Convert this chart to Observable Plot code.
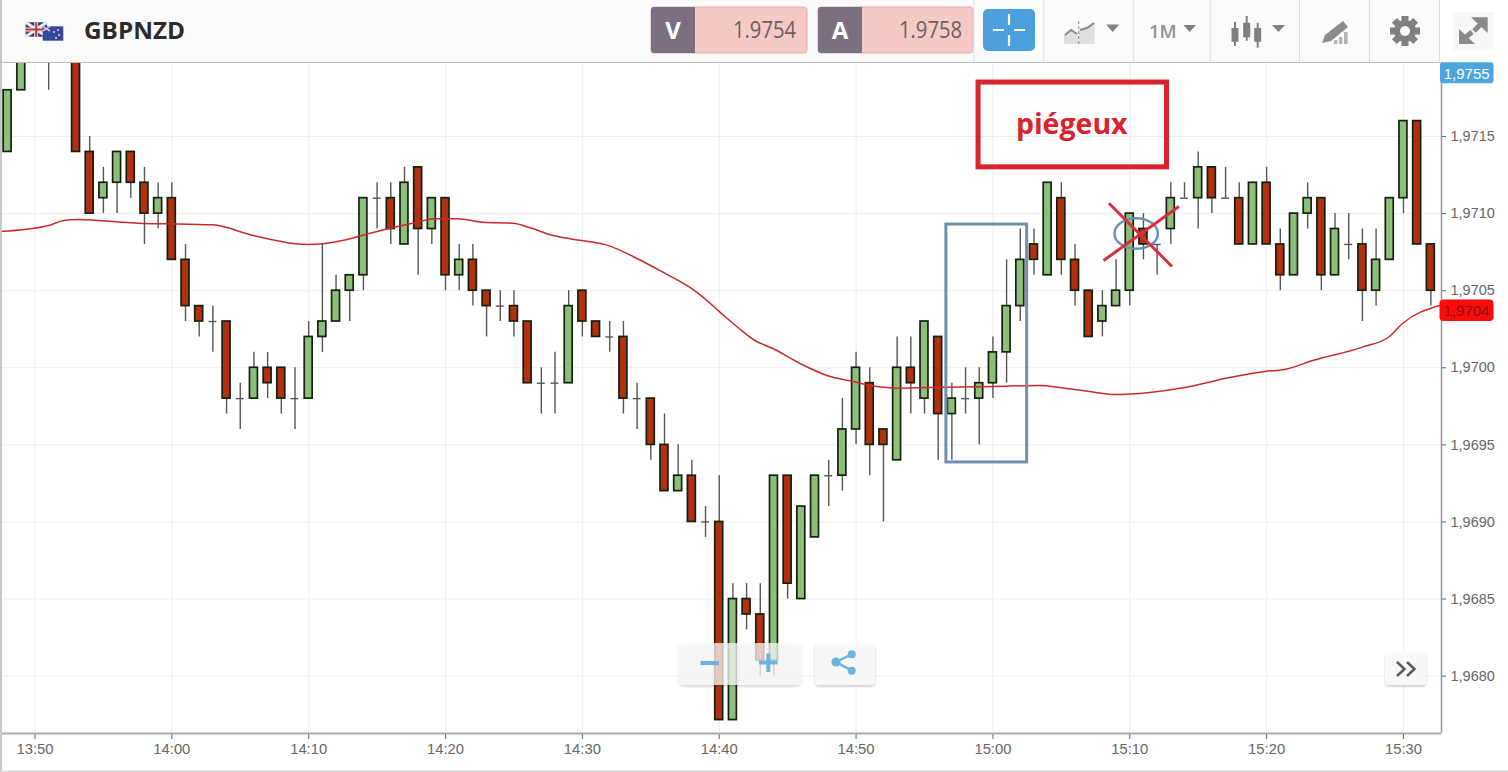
<!DOCTYPE html>
<html><head><meta charset="utf-8">
<script src="https://cdn.jsdelivr.net/npm/d3@7"></script>
<script src="https://cdn.jsdelivr.net/npm/@observablehq/plot@0.6"></script>
<style>
html,body{margin:0;padding:0;background:#fff;width:1508px;height:772px;overflow:hidden;font-family:"Open Sans",sans-serif}
#wrap{position:relative;width:1508px;height:772px}
#toolbar{display:block;position:absolute;left:0;top:0}
#chart{position:absolute;left:0;top:62px}
#chart svg{display:block;background:#fff}
#over{position:absolute;left:0;top:0;pointer-events:none}
</style></head><body>
<div id="wrap">
<div id="chart"></div>
<svg id="toolbar" width="1508" height="63" font-family="Open Sans">
  <rect width="1440" height="62" fill="#fbfbfb"/>
  <rect x="1440" width="68" height="62" fill="#fff"/>
  <rect y="62" width="1440" height="1" fill="#bdbdbd"/>
  <rect x="25.7" y="22.3" width="21" height="14.4" fill="#2a3a78"/>
  <path d="M25.7 22.3L46.7 36.7M46.7 22.3L25.7 36.7" stroke="#eee" stroke-width="3"/>
  <path d="M36.2 22.3V36.7M25.7 29.5H46.7" stroke="#eee" stroke-width="4"/>
  <path d="M36.2 22.3V36.7M25.7 29.5H46.7" stroke="#c8303c" stroke-width="2"/>
  <rect x="42.7" y="26.3" width="20.6" height="14.4" fill="#2f4c9c"/>
  <path d="M42.7 26.3L50 31M50 26.3L42.7 31" stroke="#e6c0c8" stroke-width="1.5"/>
  <path d="M53 31h2v2h-2zM57 29h2v2h-2zM58 34h2v2h-2zM55 37h2v2h-2z" fill="#e8a0a8"/>
  <text x="84" y="39" font-size="23" font-weight="700" fill="#2b2b2b" textLength="101" lengthAdjust="spacingAndGlyphs">GBPNZD</text>

  <rect x="651" y="7" width="156" height="46" rx="3" fill="#f5c9c6" stroke="#d8b0b0"/>
  <path d="M654 7h41v46h-41a3 3 0 0 1-3-3v-40a3 3 0 0 1 3-3z" fill="#7a7080"/>
  <text x="673" y="39" font-size="24" font-weight="700" fill="#fff" text-anchor="middle">V</text>
  <text x="733" y="38" font-size="23" fill="#6b6060" textLength="63" lengthAdjust="spacingAndGlyphs">1.9754</text>
  <rect x="818" y="7" width="155" height="46" rx="3" fill="#f5c9c6" stroke="#d8b0b0"/>
  <path d="M821 7h41v46h-41a3 3 0 0 1-3-3v-40a3 3 0 0 1 3-3z" fill="#7a7080"/>
  <text x="840" y="39" font-size="24" font-weight="700" fill="#fff" text-anchor="middle">A</text>
  <text x="899" y="38" font-size="23" fill="#6b6060" textLength="63" lengthAdjust="spacingAndGlyphs">1.9758</text>
  <rect x="983" y="9" width="52" height="42" rx="5" fill="#4a9fdc"/>
  <path d="M1009 14v11M1009 35v11M993 30h11M1014 30h11" stroke="#fff" stroke-width="2.2"/>

  <path d="M974 0V62M1043.7 0V62M1133.3 0V62M1210.3 0V62M1299.5 0V62M1369.5 0V62M1439.5 0V62" stroke="#dfdfdf"/>
  <path d="M1064 44V34L1071 29L1078 33V44zM1079 44V30L1087 28L1094.7 23V44z" fill="#e0e0e0"/>
  <path d="M1065 35L1071 30L1077 34M1080 30L1087 28L1094 23" stroke="#8c8c8c" stroke-width="2" fill="none"/>
  <path d="M1078.7 21V45" stroke="#999" stroke-width="1.2" stroke-dasharray="3 2"/>
  <path d="M1106 24.5h13.3l-6.6 7.5z" fill="#808080"/>
  <text x="1149" y="38.3" font-size="18" font-weight="600" fill="#929292" textLength="27.7" lengthAdjust="spacingAndGlyphs">1M</text>
  <path d="M1183.3 25h12.7l-6.3 7z" fill="#808080"/>
  <path d="M1235 21.7V46M1246.7 16V40.7M1257.7 22.7V47.7" stroke="#808080" stroke-width="2"/>
  <path d="M1231.5 28h7v13.7h-7zM1243.2 22.7h7v14.6h-7zM1254.2 28h7v13.7h-7z" fill="#808080"/>
  <path d="M1272 25h13l-6.5 7z" fill="#808080"/>
  <path d="M1322 43L1325 35L1343 21L1348 27L1331 41z" fill="#8c8c8c"/>
  <path d="M1334 44V40h3.4v4zM1339 44V37h3.4v7zM1344 44V32h3.6v12z" fill="#b5b5b5"/>
  <g transform="translate(1405 31)" fill="#808080">
    <circle r="11"/>
    <path d="M-3.5-15h7v30h-7zM-15-3.5h30v7h-30z"/>
    <path d="M-3.5-15h7v30h-7zM-15-3.5h30v7h-30z" transform="rotate(45)"/>
    <circle r="5" fill="#fbfbfb"/>
  </g>
  <rect x="1453" y="12" width="41" height="38" fill="#f7f7f7"/>
  <path d="M1487.7 17.3V33L1471 17.3zM1459 44V29L1475 44z" fill="#8a8a8a"/>
  <path d="M1481 24L1474 31M1465.5 37.5L1472 32" stroke="#8a8a8a" stroke-width="5"/>
</svg>
<svg id="over" width="1508" height="772" font-family="Open Sans">
  <defs><filter id="sh" x="-10%" y="-10%" width="120%" height="130%"><feDropShadow dx="0" dy="1.5" stdDeviation="1" flood-color="#000" flood-opacity="0.22"/></filter></defs>
  <rect x="0" y="0" width="2" height="772" fill="#c3c7ce"/>
  <rect x="0" y="770.5" width="1508" height="1.5" fill="#dcdcdc"/>
  <rect x="679" y="643" width="122" height="42" rx="4" fill="#fafafa" fill-opacity="0.74" filter="url(#sh)"/>
  <rect x="815" y="643" width="60" height="42" rx="4" fill="#fafafa" fill-opacity="0.9" filter="url(#sh)"/>
  <path d="M700.5 663H719" stroke="#6db3dd" stroke-width="4"/>
  <path d="M759 662.5H777.5M768.3 653.5V672" stroke="#6db3dd" stroke-width="4"/>
  <path d="M836 662L851.7 654.3M836 662L851.7 670.7" stroke="#6db3dd" stroke-width="2.5"/>
  <circle cx="836" cy="662" r="4.6" fill="#6db3dd"/><circle cx="851.7" cy="654.3" r="4" fill="#6db3dd"/><circle cx="851.7" cy="670.7" r="4" fill="#6db3dd"/>
  <rect x="1385" y="652.7" width="41" height="32.3" rx="3" fill="#fafafa" fill-opacity="0.92" filter="url(#sh)"/>
  <path d="M1397 662L1404.5 669L1397 676M1407 662L1414.5 669L1407 676" fill="none" stroke="#5c5c5c" stroke-width="2.5"/>
  <rect x="1440" y="62.3" width="53.5" height="21" rx="3" fill="#4aa6dc"/>
  <text x="1466.7" y="78.5" font-size="15" font-family="Liberation Sans" fill="#fff" text-anchor="middle">1,9755</text>
  <rect x="1439.5" y="299.5" width="54" height="21.5" rx="4" fill="#fb0a0a"/>
  <text x="1466.5" y="315.5" font-size="15" font-family="Liberation Sans" fill="#8a0f0f" text-anchor="middle">1,9704</text>
</svg>
</div>
<script>
// Candles: one per minute, minutes counted from 13:50, prices in pips above 1.9700
const firstMinute = -2;
const open  = [14,18,null,21,null,22,14,11,12,14,12,10,11,7,4,3,3,-2,-2,0,0,-2,-2,2,3,5,6,11,11,8,13,9,11,6,7,5,4,4,3,-1,-1,-1,5,3,2,2,-2,-2,-5,-8,-7,-10,-10,-22.85,-15,-16,-19,-7,-15,-11,-7,-7,-4,-1,-4,-6,0,-2,2,-3,-2,-2,-1,1,4,8,6,11,7,5,3,4,5,9,8,9,11,11,13,11,11,8,12,8,6,10,11,6,8,8,5,7,11,16,8];
const high  = [18,22,null,23,null,22,15,13,14,14,13,12,12,8,4,4,3,-1,1,1,0,0,3,8,6,6,11,12,12,13,13,11,11,8,8,5,5,5,3,0,1,5,5,3,3,3,-1,-2,-3,-5,-6,-9,-7,-14,-14,-14,-7,-7,-9,-7,-6,-2,1,0,-4,2,2,3,2,-1,0,0,2,7,9,9,12,12,8,5,5,7,10,10,8,12,12,14,13,13,12,12,13,9,10,12,11,10,10,9,9,11,16,16,8];
const low   = [14,18,null,18,null,14,10,10,10,11,8,9,7,3,2,1,-3,-4,-2,-2,-3,-4,-2,1,3,3,5,9,8,8,6,8,5,5,4,2,3,2,-1,-3,-3,-1,2,2,1,-3,-4,-6,-8,-8,-10,-11,-22.85,-22.85,-17,-20,-20,-15,-15,-11,-9,-8,-5,-7,-10,-6,-3,-3,-6,-6,-3,-5,-2,-1,3,6,6,6,4,2,2,4,4,7,6,8,11,9,10,11,8,8,8,5,6,9,5,6,7,3,4,7,10,8,4];
const close = [18,22,null,22,null,14,10,12,14,12,10,11,7,4,3,3,-2,-2,0,-1,-2,-2,2,3,5,6,11,11,9,12,9,11,6,7,5,4,4,3,-1,-1,-1,4,3,2,2,-2,-2,-5,-8,-7,-10,-10,-22.85,-15,-16,-19,-7,-14,-9,-7,-7,-4,0,-5,-5,0,-1,3,-3,-2,-2,-1,1,4,7,7,12,7,5,2,4,5,10,8,8,11,11,13,11,11,8,12,8,6,10,11,6,9,8,5,7,11,16,8,5];

// Moving average
const maMinute = [-2.52,0.99,2.08,3.1,7.92,9.89,12.96,15.95,18.88,19.97,20.99,22.82,24.5,25.96,27.93,29.1,30.85,32.75,34.94,36.18,37.86,39.1,42.02,43.7,45.89,47.86,48.81,50.05,51.37,52.61,53.92,55.9,57.87,59.77,61.52,63.2,66.34,69.99,73.42,74.88,77.07,78.9,81.45,84.01,87.29,89.85,91.31,93.36,97,98.98,99.93,102.63];
const maPips   = [8.84,9.23,9.55,9.62,9.36,9.34,9.27,8.58,8.06,8,8.04,8.32,8.73,9.05,9.44,9.66,9.66,9.44,9.38,9.08,8.58,8.37,7.89,7.22,6.2,5.21,4.58,3.61,2.61,1.77,1.25,0.28,-0.5,-0.89,-1.21,-1.32,-1.26,-1.21,-1.15,-1.28,-1.54,-1.73,-1.6,-1.28,-0.63,-0.24,-0.11,0.47,1.34,2.03,2.87,4.04];

// Axes
const xTickMinutes = [0,10,20,30,40,50,60,70,80,90,100];
const yTickPips = [-20,-15,-10,-5,0,5,10,15];
const xDomainMinutes = [-2.52, 102.78];
const yDomainPips = [-23.72, 19.8];

// Annotations
const blueBox = {m1:66.6, m2:72.5, p1:9.29, p2:-6.14};
const redBox  = {m1:68.95, m2:82.72, p1:18.5, p2:13.0};
const redLabel = {m:75.76, p:15.78, text:"piégeux"};
const circled = {m:80.47, p:8.71};
const cross = [{m1:78.48,p1:10.67,m2:83.08,p2:6.57},{m1:78.09,p1:6.96,m2:83.59,p2:10.46}];

const t0 = Date.UTC(2020,0,1,13,50);
const T = m => new Date(t0 + m*60000);
const P = p => 1.97 + p/10000;

const candles = open.map((o,i)=> o==null ? null : ({m:firstMinute+i, o, h:high[i], l:low[i], c:close[i]})).filter(Boolean);
const bodies = candles.filter(d=>d.o!==d.c);
const dojis = candles.filter(d=>d.o===d.c);
const ma = maMinute.map((m,i)=>({m, p:maPips[i]}));
const hw = 0.29;
const ellipse = {draw(c,size){const r=Math.sqrt(size/Math.PI),a=r*1.42,k=0.5523;
  c.moveTo(a,0);c.bezierCurveTo(a,k*r,k*a,r,0,r);c.bezierCurveTo(-k*a,r,-a,k*r,-a,0);c.bezierCurveTo(-a,-k*r,-k*a,-r,0,-r);c.bezierCurveTo(k*a,-r,a,-k*r,a,0);c.closePath();}};

const chart = Plot.plot({
  width:1508, height:710, marginTop:0, marginLeft:0, marginRight:67, marginBottom:39,
  style:{fontFamily:"Liberation Sans",background:"#fff"},
  x:{type:"utc",domain:xDomainMinutes.map(T)},
  y:{domain:yDomainPips.map(P)},
  marks:[
    Plot.gridX(xTickMinutes.map(T),{stroke:"#eeeeee",strokeOpacity:1}),
    Plot.gridY(yTickPips.map(P),{stroke:"#eeeeee",strokeOpacity:1}),
    Plot.ruleX(candles,{x:d=>T(d.m),y1:d=>P(d.l),y2:d=>P(d.h),stroke:"#555",strokeWidth:1.4,clip:true}),
    Plot.ruleY(dojis,{y:d=>P(d.o),x1:d=>T(d.m-hw),x2:d=>T(d.m+hw),stroke:"#555",strokeWidth:1.4,clip:true}),
    Plot.rect(bodies,{x1:d=>T(d.m-hw),x2:d=>T(d.m+hw),y1:d=>P(d.o),y2:d=>P(d.c),
      fill:d=>d.c>d.o?"#8dbf7a":"#b03010",stroke:"#16200f",strokeWidth:1.7,clip:true}),
    Plot.line(ma,{x:d=>T(d.m),y:d=>P(d.p),stroke:"#c92a2a",strokeWidth:1.5,curve:"monotone-x",clip:true}),
    Plot.axisX(xTickMinutes.map(T),{anchor:"bottom",tickFormat:d3.utcFormat("%H:%M"),tickSize:6,tickPadding:4,fontSize:14.8,color:"#666",label:null}),
    Plot.axisY(yTickPips.map(P),{anchor:"right",tickFormat:d=>d.toFixed(4).replace(".",","),tickSize:4,tickPadding:5,fontSize:14.5,color:"#666",label:null}),
    Plot.ruleY([P(yDomainPips[0])],{stroke:"#aaa",strokeWidth:2}),
    Plot.ruleX([T(xDomainMinutes[1])],{stroke:"#999",strokeWidth:1.5}),
    Plot.rect([blueBox],{x1:d=>T(d.m1),x2:d=>T(d.m2),y1:d=>P(d.p1),y2:d=>P(d.p2),fill:"none",stroke:"#6f90b0",strokeWidth:3}),
    Plot.rect([redBox],{x1:d=>T(d.m1),x2:d=>T(d.m2),y1:d=>P(d.p1),y2:d=>P(d.p2),fill:"none",stroke:"#d9232e",strokeWidth:5}),
    Plot.text([redLabel],{x:d=>T(d.m),y:d=>P(d.p),text:"text",fontSize:28.5,fontWeight:700,fill:"#d9232e",fontFamily:"Open Sans"}),
    Plot.dot([circled],{x:d=>T(d.m),y:d=>P(d.p),r:15.3,symbol:ellipse,fill:"none",stroke:"#6f90b0",strokeWidth:2.5}),
    Plot.link(cross,{x1:d=>T(d.m1),y1:d=>P(d.p1),x2:d=>T(d.m2),y2:d=>P(d.p2),stroke:"#d6303f",strokeWidth:3})
  ]
});
document.getElementById("chart").appendChild(chart);
</script>
</body></html>
